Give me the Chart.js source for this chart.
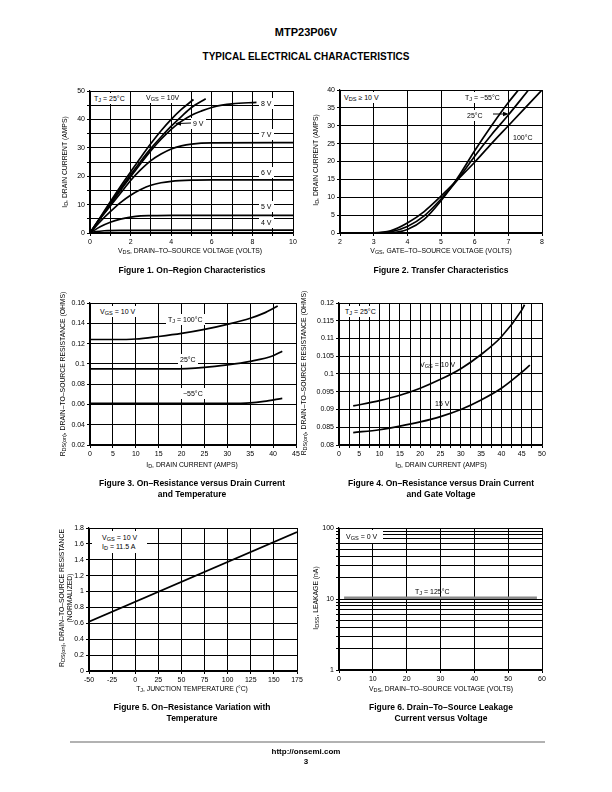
<!DOCTYPE html>
<html>
<head>
<meta charset="utf-8">
<script src="https://cdn.jsdelivr.net/npm/chart.js@4"></script>
<style>
body { margin:0; width:612px; height:792px; position:relative; background:#fff; font-family:"Liberation Sans", Arial, sans-serif; color:#000; overflow:hidden; }
canvas { position:absolute; }
.t { position:absolute; white-space:nowrap; font-weight:bold; transform:translateX(-50%); }
.note { position:absolute; white-space:nowrap; font-size:7px; background:#fff; padding:1px 2px; line-height:9px; }
.xt { position:absolute; white-space:nowrap; font-size:6.8px; transform:translateX(-50%); }
.yt { position:absolute; white-space:nowrap; font-size:6.8px; transform:translate(-50%,-50%) rotate(-90deg); text-align:center; line-height:8px; }
.cap { position:absolute; white-space:nowrap; font-size:8.5px; font-weight:bold; transform:translateX(-50%); text-align:center; line-height:11px; }
sub { font-size:0.8em; vertical-align:-0.25em; line-height:0; }
</style>
</head>
<body>
<div class="t" style="left:306px;top:26px;font-size:11px;">MTP23P06V</div>
<div class="t" style="left:306px;top:51px;font-size:10px;">TYPICAL ELECTRICAL CHARACTERISTICS</div>

<script>
// Figure 1 - on-region, ID vs VDS for each VGS
const fig1X = [0, 1, 2, 3, 4, 5, 6, 7, 8, 9, 10]
const fig1XLabels = [0, 2, 4, 6, 8, 10]
const fig1Y = [0, 5, 10, 15, 20, 25, 30, 35, 40, 45, 50]
const fig1YLabels = [0, 10, 20, 30, 40, 50]
const fig1Vgs10 = [[0,0],[0.5,5.5],[1,11],[1.5,16.4],[2,21.5],[2.5,26.6],[3,31.5],[3.5,36],[4,40],[4.5,43.5],[5.1,47]]
const fig1Vgs9 = [[0,0],[0.5,5.3],[1,10.5],[1.5,15.6],[2,20.5],[2.5,25.3],[3,29.8],[3.5,33.8],[4,37.6],[4.5,41],[5,44.2],[5.7,47.3]]
const fig1Vgs8 = [[0,0],[0.5,5.2],[1,10],[1.5,15],[2,19.8],[2.5,24.5],[3,29],[3.5,33],[4,36.5],[4.5,39.3],[5,41.5],[5.5,43],[6,44.2],[6.5,45],[7,45.5],[8.2,46]]
const fig1Vgs7 = [[0,0],[0.5,5],[1,9.5],[1.5,14],[2,18.5],[2.5,22.3],[3,25.5],[3.5,27.8],[4,29.6],[4.5,30.7],[5,31.3],[6,31.7],[10,31.8]]
const fig1Vgs6 = [[0,0],[0.5,4],[1,7.5],[1.5,10.7],[2,13.3],[2.5,15.3],[3,16.8],[3.5,17.7],[4,18.2],[5,18.6],[6,18.7],[10,18.7]]
const fig1Vgs5 = [[0,0],[0.5,2.2],[1,3.8],[1.5,4.9],[2,5.6],[2.5,6],[3,6.1],[4,6.2],[10,6.2]]
const fig1Vgs4 = [[0,0],[0.3,0.5],[0.7,0.8],[1.5,0.95],[10,1]]

// Figure 2 - transfer, ID vs VGS
const fig2X = [2, 3, 4, 5, 6, 7, 8]
const fig2Y = [0, 5, 10, 15, 20, 25, 30, 35, 40]
const fig2Tm55 = [[2,0],[3,0],[3.5,0.1],[4,1],[4.5,3.8],[5,9],[5.5,15.5],[6,23],[6.5,30],[7,36.5],[7.3,40]]
const fig2T25 = [[2,0],[3,0],[3.5,0.3],[4,1.8],[4.5,4.8],[5,9.5],[5.5,15],[6,21.5],[6.5,27.5],[7,33],[7.6,40]]
const fig2T100 = [[2,0],[3,0.05],[3.5,0.6],[4,2.8],[4.5,6],[5,10.3],[5.5,15],[6,19.8],[6.5,25],[7,30],[7.5,35],[8,40]]

// Figure 3 - RDS(on) vs ID and temperature
const fig3X = [0, 5, 10, 15, 20, 25, 30, 35, 40, 45]
const fig3Y = [0.02, 0.04, 0.06, 0.08, 0.1, 0.12, 0.14, 0.16]
const fig3T100 = [[0,0.124],[5,0.124],[10,0.1245],[15,0.127],[20,0.13],[25,0.134],[30,0.139],[35,0.145],[38,0.15],[41,0.157]]
const fig3T25 = [[0,0.095],[10,0.095],[18,0.095],[25,0.0965],[30,0.099],[35,0.1025],[40,0.108],[42,0.1125]]
const fig3Tm55 = [[0,0.061],[10,0.061],[20,0.061],[30,0.061],[35,0.0615],[38,0.063],[42,0.066]]

// Figure 4 - RDS(on) vs ID and gate voltage
const fig4X = [0, 2.5, 5, 7.5, 10, 12.5, 15, 17.5, 20, 22.5, 25, 27.5, 30, 32.5, 35, 37.5, 40, 42.5, 45, 47.5, 50]
const fig4XLabels = [0, 5, 10, 15, 20, 25, 30, 35, 40, 45, 50]
const fig4Y = [0.08, 0.085, 0.09, 0.095, 0.1, 0.105, 0.11, 0.115, 0.12]
const fig4Vgs10 = [[3.5,0.091],[10,0.0925],[15,0.094],[20,0.096],[25,0.0985],[30,0.1015],[35,0.1055],[40,0.1105],[45,0.118],[45.7,0.1195]]
const fig4Vgs15 = [[3.5,0.0835],[10,0.0843],[15,0.0853],[20,0.0865],[25,0.088],[30,0.09],[35,0.0927],[40,0.096],[45,0.1005],[47,0.1025]]

// Figure 5 - normalized RDS(on) vs TJ
const fig5X = [-50, -25, 0, 25, 50, 75, 100, 125, 150, 175]
const fig5Y = [0, 0.2, 0.4, 0.6, 0.8, 1, 1.2, 1.4, 1.6, 1.8]
const fig5Rds = [[-50,0.62],[175,1.75]]

// Figure 6 - leakage vs VDS
const fig6X = [0, 10, 20, 30, 40, 50, 60]
const fig6Y = [1, 2, 3, 4, 5, 6, 7, 8, 9, 10, 20, 30, 40, 50, 60, 70, 80, 90, 100]
const fig6YLabels = [1, 10, 100]
const fig6T125 = [[1.5,10.4],[58.5,10.4]]

const FONT = '"Liberation Sans", Arial, sans-serif'

function fmt(v) {
  return String(Number(v.toFixed(4)))
}

function axis(grid, labels, min, max, isX, type) {
  return {
    type: type || 'linear',
    min: min,
    max: max,
    afterBuildTicks: s => { s.ticks = grid.map(v => ({ value: v })) },
    afterFit: s => { if (isX) s.height = 14; else s.width = 30 },
    ticks: {
      autoSkip: false,
      maxRotation: 0,
      color: '#000',
      padding: 2,
      font: { family: FONT, size: 7 },
      callback: v => labels.some(l => Math.abs(l - v) < 1e-9) ? fmt(v) : ''
    },
    grid: { color: '#000', lineWidth: 1, tickLength: 3, tickColor: '#000' },
    border: { color: '#000', width: 1.2 }
  }
}

function pts(arr) {
  return arr.map(p => ({ x: p[0], y: p[1] }))
}

function makeChart(box, xScale, yScale, series, color) {
  const c = document.createElement('canvas')
  const w = box.r - box.l + 42
  const h = box.b - box.t + 22
  c.width = w
  c.height = h
  c.style.left = (box.l - 30) + 'px'
  c.style.top = (box.t - 8) + 'px'
  c.style.width = w + 'px'
  c.style.height = h + 'px'
  document.body.appendChild(c)
  return new Chart(c.getContext('2d'), {
    type: 'line',
    data: {
      datasets: series.map(s => ({
        data: pts(s),
        borderColor: color || '#000',
        borderWidth: color ? 2.4 : 1.7,
        pointRadius: 0,
        cubicInterpolationMode: 'monotone',
        fill: false
      }))
    },
    options: {
      animation: false,
      responsive: false,
      devicePixelRatio: 1,
      layout: { padding: { top: 8, right: 12, left: 0, bottom: 0 } },
      plugins: { legend: { display: false }, tooltip: { enabled: false } },
      scales: { x: xScale, y: yScale }
    }
  })
}

makeChart({ l: 90, t: 91, r: 293, b: 233 },
  axis(fig1X, fig1XLabels, 0, 10, true), axis(fig1Y, fig1YLabels, 0, 50, false),
  [fig1Vgs10, fig1Vgs9, fig1Vgs8, fig1Vgs7, fig1Vgs6, fig1Vgs5, fig1Vgs4])

makeChart({ l: 340, t: 90, r: 542, b: 233 },
  axis(fig2X, fig2X, 2, 8, true), axis(fig2Y, fig2Y, 0, 40, false),
  [fig2Tm55, fig2T25, fig2T100])

makeChart({ l: 90, t: 303, r: 296, b: 445 },
  axis(fig3X, fig3X, 0, 45, true), axis(fig3Y, fig3Y, 0.02, 0.16, false),
  [fig3T100, fig3T25, fig3Tm55])

makeChart({ l: 339, t: 303, r: 542, b: 445 },
  axis(fig4X, fig4XLabels, 0, 50, true), axis(fig4Y, fig4Y, 0.08, 0.12, false),
  [fig4Vgs10, fig4Vgs15])

makeChart({ l: 89, t: 528, r: 297, b: 671 },
  axis(fig5X, fig5X, -50, 175, true), axis(fig5Y, fig5Y, 0, 1.8, false),
  [fig5Rds])

makeChart({ l: 339, t: 528, r: 542, b: 670 },
  axis(fig6X, fig6X, 0, 60, true), axis(fig6Y, fig6YLabels, 1, 100, false, 'logarithmic'),
  [fig6T125], '#8a8a8a')
</script>

<!-- notes inside the plots -->
<div class="note" style="left:92px;top:93px;">T<sub>J</sub> = 25°C</div>
<div class="note" style="left:144px;top:92px;">V<sub>GS</sub> = 10V</div>
<div class="note" style="left:259px;top:98px;">8 V</div>
<div class="note" style="left:191px;top:118px;">9 V</div>
<div class="note" style="left:259px;top:129px;">7 V</div>
<div class="note" style="left:259px;top:167px;">6 V</div>
<div class="note" style="left:259px;top:201px;">5 V</div>
<div class="note" style="left:259px;top:217px;">4 V</div>

<div class="note" style="left:342px;top:92px;">V<sub>DS</sub> ≥ 10 V</div>
<div class="note" style="left:463px;top:92px;">T<sub>J</sub> = −55°C</div>
<div class="note" style="left:465px;top:110px;">25°C</div>
<div class="note" style="left:511px;top:132px;">100°C</div>

<div class="note" style="left:98px;top:306px;">V<sub>GS</sub> = 10 V</div>
<div class="note" style="left:166px;top:314px;">T<sub>J</sub> = 100°C</div>
<div class="note" style="left:178px;top:354px;">25°C</div>
<div class="note" style="left:181px;top:388px;">−55°C</div>

<div class="note" style="left:343px;top:306px;">T<sub>J</sub> = 25°C</div>
<div class="note" style="left:418px;top:359px;background:transparent;">V<sub>GS</sub> = 10 V</div>
<div class="note" style="left:433px;top:398px;background:transparent;">15 V</div>

<div class="note" style="left:92px;top:531px;padding:2px 10px 2px 10px;">V<sub>GS</sub> = 10 V<br>I<sub>D</sub> = 11.5 A</div>

<div class="note" style="left:340px;top:530px;padding:2px 6px;">V<sub>GS</sub> = 0 V</div>
<div class="note" style="left:413px;top:586px;background:transparent;">T<sub>J</sub> = 125°C</div>

<svg style="position:absolute;left:0;top:0" width="612" height="792">
  <line x1="191" y1="123" x2="179" y2="123.5" stroke="#000" stroke-width="1"/>
  <polygon points="175,123.6 181,121.3 181,125.8" fill="#000"/>
  <line x1="493" y1="114" x2="505" y2="114" stroke="#000" stroke-width="1"/>
  <polygon points="509,114 503,111.7 503,116.3" fill="#000"/>
  <line x1="70" y1="742" x2="545" y2="742" stroke="#999" stroke-width="1.5"/>
</svg>

<!-- axis titles -->
<div class="xt" style="left:190px;top:247px;">V<sub>DS</sub>, DRAIN–TO–SOURCE VOLTAGE (VOLTS)</div>
<div class="yt" style="left:65px;top:162px;">I<sub>D</sub>, DRAIN CURRENT (AMPS)</div>
<div class="cap" style="left:192px;top:265px;">Figure 1. On–Region Characteristics</div>

<div class="xt" style="left:441px;top:247px;">V<sub>GS</sub>, GATE–TO–SOURCE VOLTAGE (VOLTS)</div>
<div class="yt" style="left:316px;top:160px;">I<sub>D</sub>, DRAIN CURRENT (AMPS)</div>
<div class="cap" style="left:441px;top:265px;">Figure 2. Transfer Characteristics</div>

<div class="xt" style="left:192px;top:461px;">I<sub>D</sub>, DRAIN CURRENT (AMPS)</div>
<div class="yt" style="left:63px;top:374px;">R<sub>DS(on)</sub>, DRAIN–TO–SOURCE RESISTANCE (OHMS)</div>
<div class="cap" style="left:192px;top:478px;">Figure 3. On–Resistance versus Drain Current<br>and Temperature</div>

<div class="xt" style="left:441px;top:461px;">I<sub>D</sub>, DRAIN CURRENT (AMPS)</div>
<div class="yt" style="left:304px;top:373px;">R<sub>DS(on)</sub>, DRAIN–TO–SOURCE RESISTANCE (OHMS)</div>
<div class="cap" style="left:441px;top:478px;">Figure 4. On–Resistance versus Drain Current<br>and Gate Voltage</div>

<div class="xt" style="left:192px;top:685px;">T<sub>J</sub>, JUNCTION TEMPERATURE (°C)</div>
<div class="yt" style="left:66px;top:598px;">R<sub>DS(on)</sub>, DRAIN–TO–SOURCE RESISTANCE<br>(NORMALIZED)</div>
<div class="cap" style="left:192px;top:702px;">Figure 5. On–Resistance Variation with<br>Temperature</div>

<div class="xt" style="left:441px;top:685px;">V<sub>DS</sub>, DRAIN–TO–SOURCE VOLTAGE (VOLTS)</div>
<div class="yt" style="left:316px;top:598px;">I<sub>DSS</sub>, LEAKAGE (nA)</div>
<div class="cap" style="left:441px;top:702px;">Figure 6. Drain–To–Source Leakage<br>Current versus Voltage</div>

<div class="t" style="left:306px;top:747px;font-size:8px;">http://onsemi.com</div>
<div class="t" style="left:306px;top:757px;font-size:8px;">3</div>
</body>
</html>
